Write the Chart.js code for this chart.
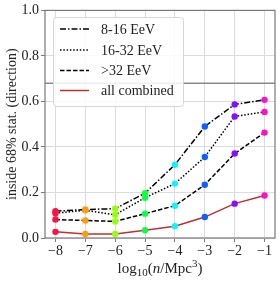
<!DOCTYPE html>
<html>
<head>
<meta charset="utf-8">
<script src="https://cdn.jsdelivr.net/npm/chart.js@4"></script>
<style>
  html, body { margin: 0; padding: 0; background: #fff; }
  canvas { display: block; }
</style>
</head>
<body>
<canvas id="c" width="280" height="281"></canvas>
<script>
// data
const densities = [-8, -7, -6, -5, -4, -3, -2, -1];
const e8to16 = [0.118, 0.125, 0.129, 0.197, 0.322, 0.490, 0.587, 0.607];
const e16to32 = [0.109, 0.122, 0.102, 0.177, 0.239, 0.356, 0.534, 0.554];
const eAbove32 = [0.081, 0.077, 0.073, 0.107, 0.142, 0.234, 0.371, 0.463];
const allCombined = [0.027, 0.018, 0.018, 0.034, 0.052, 0.092, 0.151, 0.187];
const xTicks = [-8, -7, -6, -5, -4, -3, -2, -1];
const yTicks = [0, 0.2, 0.4, 0.6, 0.8, 1.0];
const seriesNames = ["8-16 EeV", "16-32 EeV", ">32 EeV", "all combined"];
const refLine = 0.68;

// one colour per density (hsv-like colormap)
const pointColors = ["#ff1040", "#ff9c10", "#96ff10", "#10ff44", "#10f4ff", "#1060ff", "#8410ff", "#ff10c4"];

const serif = "'Liberation Serif', 'DejaVu Serif', serif";
const dashes = [[6, 2, 1.5, 2], [1.5, 1.8], [4.5, 2], []];
const lineColors = ["#000", "#000", "#000", "#c0302e"];

const makeSet = (i, values) => ({
    label: seriesNames[i],
    data: densities.map((x, k) => ({ x: x, y: values[k] })),
    borderColor: lineColors[i],
    borderDash: dashes[i],
    borderWidth: 1.5,
    pointRadius: 3.2,
    pointBorderWidth: 0,
    pointBackgroundColor: pointColors,
    pointBorderColor: pointColors,
    tension: 0,
    fill: false
});

const extras = {
    id: "extras",
    beforeDatasetsDraw(chart) {
        const ctx = chart.ctx;
        const a = chart.chartArea;
        const y = chart.scales.y.getPixelForValue(refLine);
        ctx.save();
        ctx.strokeStyle = "#8a8a8a";
        ctx.lineWidth = 1.5;
        ctx.beginPath();
        ctx.moveTo(a.left, y);
        ctx.lineTo(a.right, y);
        ctx.stroke();
        ctx.restore();
    },
    afterDraw(chart) {
        const ctx = chart.ctx;
        const a = chart.chartArea;
        ctx.save();
        // frame
        ctx.strokeStyle = "#7a7a7a";
        ctx.lineWidth = 1.2;
        ctx.strokeRect(a.left, a.top, a.right - a.left, a.bottom - a.top);

        // legend
        const lx = 53, ly = 17, lw = 130, lh = 89;
        ctx.fillStyle = "rgba(255,255,255,0.85)";
        ctx.strokeStyle = "#d6d6d6";
        ctx.lineWidth = 1;
        ctx.beginPath();
        ctx.roundRect(lx + 0.5, ly + 0.5, lw, lh, 3);
        ctx.fill();
        ctx.stroke();
        const rows = [29, 50, 70.5, 90.5];
        ctx.font = "14px " + serif;
        ctx.textBaseline = "middle";
        ctx.textAlign = "left";
        rows.forEach((ry, i) => {
            ctx.strokeStyle = lineColors[i];
            ctx.lineWidth = 1.5;
            ctx.setLineDash(dashes[i]);
            ctx.beginPath();
            ctx.moveTo(60, ry);
            ctx.lineTo(89, ry);
            ctx.stroke();
            ctx.setLineDash([]);
            ctx.fillStyle = "#222";
            ctx.fillText(seriesNames[i], 101, ry + 1);
        });

        // y title
        ctx.save();
        ctx.translate(12, (a.top + a.bottom) / 2);
        ctx.rotate(-Math.PI / 2);
        ctx.textAlign = "center";
        ctx.textBaseline = "middle";
        ctx.font = "14px " + serif;
        ctx.fillStyle = "#222";
        ctx.fillText("inside 68% stat. (direction)", 0, 0);
        ctx.restore();

        // x title: log10(n/Mpc^3)
        const parts = [
            { t: "log", f: "15px " + serif, dy: 0 },
            { t: "10", f: "11px " + serif, dy: 3 },
            { t: "(", f: "15px " + serif, dy: 0 },
            { t: "n", f: "italic 15px " + serif, dy: 0 },
            { t: "/Mpc", f: "15px " + serif, dy: 0 },
            { t: "3", f: "11px " + serif, dy: -6 },
            { t: ")", f: "15px " + serif, dy: 0 }
        ];
        let total = 0;
        parts.forEach(p => { ctx.font = p.f; p.w = ctx.measureText(p.t).width; total += p.w; });
        let px = 160 - total / 2;
        ctx.textBaseline = "alphabetic";
        ctx.fillStyle = "#222";
        parts.forEach(p => {
            ctx.font = p.f;
            ctx.fillText(p.t, px, 273 + p.dy);
            px += p.w;
        });
        ctx.restore();
    }
};

new Chart(document.getElementById("c").getContext("2d"), {
    type: "line",
    data: {
        datasets: [
            makeSet(0, e8to16),
            makeSet(1, e16to32),
            makeSet(2, eAbove32),
            makeSet(3, allCombined)
        ]
    },
    options: {
        responsive: false,
        animation: false,
        layout: { padding: { top: 10, right: 5, left: 0, bottom: 0 } },
        plugins: {
            legend: { display: false },
            tooltip: { enabled: false }
        },
        scales: {
            x: {
                type: "linear",
                min: -8.35,
                max: -0.65,
                afterFit: s => { s.height = 43; },
                afterBuildTicks: s => { s.ticks = xTicks.map(v => ({ value: v })); },
                grid: { color: "#dcdcdc", lineWidth: 1, tickLength: 4, tickColor: "#7a7a7a" },
                border: { display: false },
                ticks: {
                    padding: 1,
                    color: "#222",
                    font: { family: serif, size: 14 },
                    maxRotation: 0,
                    callback: v => (v < 0 ? "\u2212" + Math.abs(v) : String(v))
                }
            },
            y: {
                min: 0,
                max: 1,
                afterFit: s => { s.width = 45; },
                afterBuildTicks: s => { s.ticks = yTicks.map(v => ({ value: v })); },
                grid: { color: "#dcdcdc", lineWidth: 1, tickLength: 4, tickColor: "#7a7a7a" },
                border: { display: false },
                ticks: {
                    padding: 2,
                    color: "#222",
                    font: { family: serif, size: 14 },
                    callback: v => v.toFixed(1)
                }
            }
        }
    },
    plugins: [extras]
});
</script>
</body>
</html>
